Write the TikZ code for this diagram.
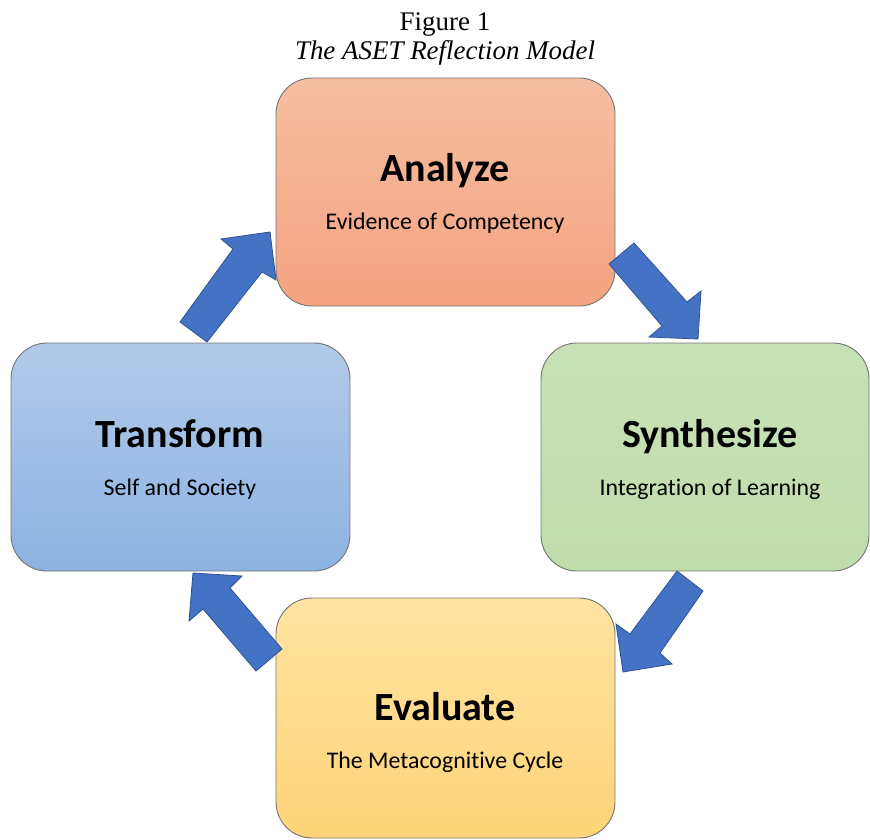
\documentclass[tikz,border=0pt]{standalone}
\usepackage{fontspec}
\setmainfont{Liberation Serif}
\newfontfamily\calibri[Ligatures=NoCommon]{Carlito}
\definecolor{boxline}{RGB}{118,118,118}
\definecolor{arrowblue}{RGB}{68,114,196}
\definecolor{arrowedge}{RGB}{47,82,143}
\definecolor{anaTop}{RGB}{246,190,163}
\definecolor{anaBot}{RGB}{244,163,127}
\definecolor{synTop}{RGB}{199,225,183}
\definecolor{synBot}{RGB}{192,221,172}
\definecolor{evaTop}{RGB}{255,227,162}
\definecolor{evaBot}{RGB}{255,212,120}
\definecolor{traTop}{RGB}{178,202,233}
\definecolor{traBot}{RGB}{141,179,227}
\begin{document}
\begin{tikzpicture}[x=0.75pt,y=-0.75pt,
  stage/.style={draw=boxline, line width=0.7pt, rounded corners=27pt,
    inner sep=0pt, minimum width=254.25pt, minimum height=171pt},
  head/.style={font=\calibri\bfseries\fontsize{30}{36}\selectfont,
    inner sep=0pt, anchor=base},
  sub/.style={font=\calibri\fontsize{17.9}{21}\selectfont,
    inner sep=0pt, anchor=base},
  caption/.style={font=\fontsize{20.2}{24}\selectfont, inner sep=0pt, anchor=base},
  blockarrow/.style={fill=arrowblue, draw=arrowedge, line width=0.6pt,
    line join=miter}]

\useasboundingbox (0,0) rectangle (870,839);

% caption
\node[caption] (fig) at (445,30) {Figure 1};
\node[caption, font=\itshape\fontsize{20.2}{24}\selectfont] (cap) at (445,59)
  {The ASET Reflection Model};

% the four stages
\node[stage, top color=anaTop, bottom color=anaBot] (ana) at (445.5,192) {};
\node[stage, top color=traTop, bottom color=traBot] (tra) at (180.5,457) {};
\node[stage, top color=synTop, bottom color=synBot, minimum width=246pt]
  (syn) at (705,457) {};
\node[stage, top color=evaTop, bottom color=evaBot, minimum height=180pt]
  (eva) at (445.5,718) {};

\node[head] (anaH) at (445,181) {Analyze};
\node[sub]  (anaS) at (445,229) {Evidence of Competency};
\node[head] (traH) at (180,447) {Transform};
\node[sub]  (traS) at (180,495) {Self and Society};
\node[head] (synH) at (710,447) {Synthesize};
\node[sub]  (synS) at (710,495) {Integration of Learning};
\node[head] (evaH) at (445,720) {Evaluate};
\node[sub]  (evaS) at (445,768) {The Metacognitive Cycle};

% block arrows between the stages
\draw[blockarrow] (180,322) -- (233,249) -- (221,239) -- (270,232)
  -- (276,280) -- (262,272) -- (207,342) -- cycle;
\draw[blockarrow] (634,243) -- (687,302) -- (701,291) -- (698,339)
  -- (649,337) -- (662,326) -- (609,264) -- cycle;
\draw[blockarrow] (703,591) -- (660,653) -- (672,664) -- (623,672)
  -- (616,624) -- (630,634) -- (677,571) -- cycle;
\draw[blockarrow] (282,649) -- (230,588) -- (242,576) -- (193,573)
  -- (189,621) -- (203,609) -- (256,671) -- cycle;
\end{tikzpicture}
\end{document}
